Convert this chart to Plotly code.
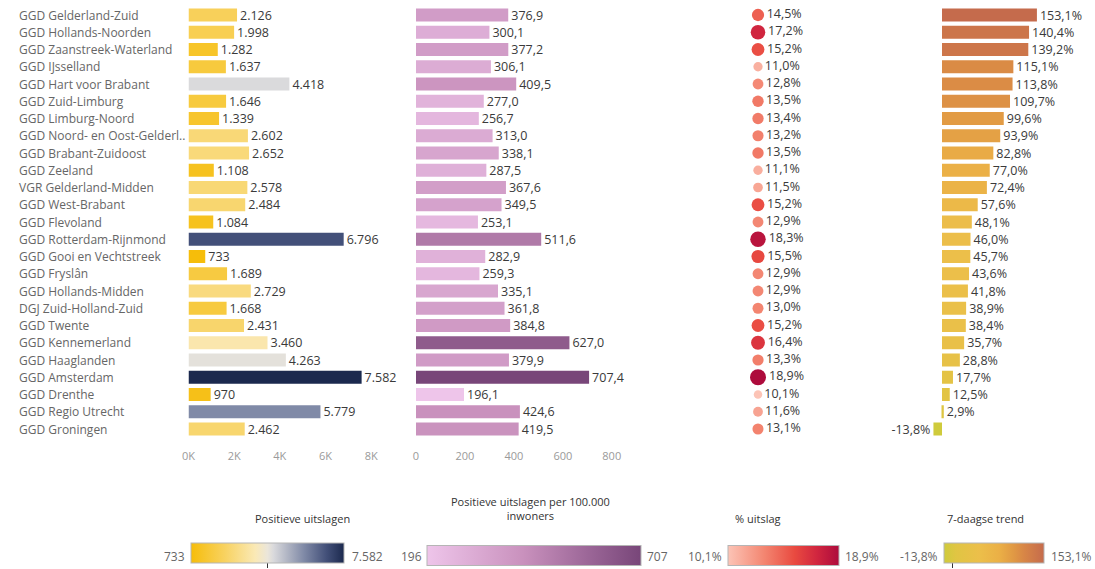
import plotly.graph_objects as go

W, H = 1095, 569

regions = [
    "GGD Gelderland-Zuid", "GGD Hollands-Noorden", "GGD Zaanstreek-Waterland",
    "GGD IJsselland", "GGD Hart voor Brabant", "GGD Zuid-Limburg",
    "GGD Limburg-Noord", "GGD Noord- en Oost-Gelderl..", "GGD Brabant-Zuidoost",
    "GGD Zeeland", "VGR Gelderland-Midden", "GGD West-Brabant", "GGD Flevoland",
    "GGD Rotterdam-Rijnmond", "GGD Gooi en Vechtstreek", "GGD Fryslân",
    "GGD Hollands-Midden", "DGJ Zuid-Holland-Zuid", "GGD Twente",
    "GGD Kennemerland", "GGD Haaglanden", "GGD Amsterdam", "GGD Drenthe",
    "GGD Regio Utrecht", "GGD Groningen",
]
positieve = [2126, 1998, 1282, 1637, 4418, 1646, 1339, 2602, 2652, 1108, 2578,
             2484, 1084, 6796, 733, 1689, 2729, 1668, 2431, 3460, 4263, 7582,
             970, 5779, 2462]
per100k = [376.9, 300.1, 377.2, 306.1, 409.5, 277.0, 256.7, 313.0, 338.1,
           287.5, 367.6, 349.5, 253.1, 511.6, 282.9, 259.3, 335.1, 361.8,
           384.8, 627.0, 379.9, 707.4, 196.1, 424.6, 419.5]
pct_uitslag = [14.5, 17.2, 15.2, 11.0, 12.8, 13.5, 13.4, 13.2, 13.5, 11.1,
               11.5, 15.2, 12.9, 18.3, 15.5, 12.9, 12.9, 13.0, 15.2, 16.4,
               13.3, 18.9, 10.1, 11.6, 13.1]
trend7 = [153.1, 140.4, 139.2, 115.1, 113.8, 109.7, 99.6, 93.9, 82.8, 77.0,
          72.4, 57.6, 48.1, 46.0, 45.7, 43.6, 41.8, 38.9, 38.4, 35.7, 28.8,
          17.7, 12.5, 2.9, -13.8]

axis1_tickvals = [0, 2000, 4000, 6000, 8000]
axis1_ticktext = ["0K", "2K", "4K", "6K", "8K"]
axis2_tickvals = [0, 200, 400, 600, 800]
axis2_ticktext = ["0", "200", "400", "600", "800"]

legend_titles = ["Positieve uitslagen", "Positieve uitslagen per 100.000<br>inwoners",
                 "% uitslag", "7-daagse trend"]


def px(x):
    return x / W


def py(y):
    return 1 - y / H


def nl_int(v):
    return f"{v:,}".replace(",", ".")


def nl_dec(v, suffix=""):
    return f"{v:.1f}".replace(".", ",") + suffix


FONT = "Open Sans"
LBL = "#666666"
VAL = "#3a3a3a"

cs1 = [[0, "#F6BD0A"], [0.22, "#F8D260"], [0.42, "#FAE9B6"], [0.5, "#EBE6DA"],
       [0.54, "#D9D9DC"], [0.74, "#7F89A6"], [0.885, "#435079"], [1, "#1B294E"]]
cs2 = [[0, "#EEC5EA"], [0.45, "#C991BD"], [0.75, "#9C6798"], [1, "#784679"]]
cs3 = [[0, "#FCC4B6"], [0.33, "#F38570"], [0.6, "#E94A40"], [0.8, "#D1263F"], [1, "#AD0B3C"]]
cs4 = [[0, "#CFCB3C"], [0.12, "#E0C543"], [0.35, "#ECBF4A"], [0.55, "#EBB046"],
       [0.7, "#E09844"], [0.8, "#D88646"], [1, "#C56B4C"]]


def cbar(cx, length, tickvals=None):
    d = dict(orientation="h", x=px(cx), xanchor="center", y=py(556), yanchor="middle",
             len=length, lenmode="pixels", thickness=20, thicknessmode="pixels",
             outlinewidth=1, outlinecolor="#b5b5b5", xpad=0, ypad=0,
             showticklabels=False)
    if tickvals is not None:
        d.update(tickvals=tickvals, ticks="outside", ticklen=5, tickcolor="#333333", tickwidth=1)
    else:
        d.update(ticks="")
    return d


VALFONT = dict(family=FONT, size=12.5, color=VAL)

fig = go.Figure()

fig.add_trace(go.Bar(
    y=regions, x=positieve, orientation="h", xaxis="x", yaxis="y", width=0.74,
    marker=dict(color=positieve, colorscale=cs1, cmin=min(positieve), cmax=max(positieve),
                showscale=True, colorbar=cbar(267.5, 153, [4150]), line_width=0),
    text=[nl_int(v) for v in positieve], textposition="outside", constraintext="none",
    textfont=VALFONT, cliponaxis=False,
))

fig.add_trace(go.Bar(
    y=regions, x=per100k, orientation="h", xaxis="x2", yaxis="y", width=0.74,
    marker=dict(color=per100k, colorscale=cs2, cmin=min(per100k), cmax=max(per100k),
                showscale=True, colorbar=cbar(534, 214), line_width=0),
    text=[nl_dec(v) for v in per100k], textposition="outside", constraintext="none",
    textfont=VALFONT, cliponaxis=False,
))

pmin, pmax = min(pct_uitslag), max(pct_uitslag)
dot_sizes = [8.5 + (v - pmin) / (pmax - pmin) * 7.5 for v in pct_uitslag]
fig.add_trace(go.Scatter(
    y=regions, x=[0] * len(regions), xaxis="x3", yaxis="y", mode="markers+text",
    marker=dict(color=pct_uitslag, colorscale=cs3, cmin=pmin, cmax=pmax, size=dot_sizes,
                showscale=True, colorbar=cbar(783.5, 111), line_width=0, opacity=1),
    text=[nl_dec(v, "%") for v in pct_uitslag], textposition="middle right",
    textfont=VALFONT, cliponaxis=False,
))

fig.add_trace(go.Bar(
    y=regions, x=trend7, orientation="h", xaxis="x4", yaxis="y", width=0.74,
    marker=dict(color=trend7, colorscale=cs4, cmin=min(trend7), cmax=max(trend7),
                showscale=True, colorbar=cbar(994, 100, [0]), line_width=0),
    text=[nl_dec(v, "%") for v in trend7], textposition="outside", constraintext="none",
    textfont=VALFONT, cliponaxis=False,
))

n = len(regions)
ROW = 17.25          # px per row in the reference
TOP, BOT = 6.0, 437.6
FIRST = 15.0         # centre of first row
ytop_val = -(FIRST - TOP) / ROW
ybot_val = (BOT - FIRST) / ROW
ydom = [py(BOT), py(TOP)]
tickfont = dict(family=FONT, size=11, color="#9a9a9a")
common = dict(showgrid=False, zeroline=False, showline=False, fixedrange=True)

fig.update_layout(
    width=W, height=H, margin=dict(l=0, r=0, t=0, b=0, autoexpand=False),
    paper_bgcolor="white", plot_bgcolor="white", showlegend=False,
    font=dict(family=FONT, color=LBL),
    bargap=0.26,
    yaxis=dict(type="category", range=[ybot_val, ytop_val], autorange=False, domain=ydom,
               showticklabels=False, anchor="x", **common),
    xaxis=dict(domain=[px(188.5), px(394)], range=[0, 9000], tickvals=axis1_tickvals,
               ticktext=axis1_ticktext, ticks="outside", ticklen=8,
               tickcolor="rgba(0,0,0,0)", tickfont=tickfont, anchor="y", **common),
    xaxis2=dict(domain=[px(416), px(624)], range=[0, 850], tickvals=axis2_tickvals,
                ticktext=axis2_ticktext, ticks="outside", ticklen=8,
                tickcolor="rgba(0,0,0,0)", tickfont=tickfont, anchor="y", **common),
    xaxis3=dict(domain=[px(738), px(858)], range=[-1, 5], showticklabels=False,
                anchor="y", **common),
    xaxis4=dict(domain=[px(926.5), px(1044.3)], range=[-25, 165], showticklabels=False,
                anchor="y", **common),
)

annotations = []
for name in regions:
    annotations.append(dict(x=px(17), xref="paper", y=name, yref="y", text=name,
                            xanchor="left", yanchor="middle", showarrow=False,
                            font=dict(family=FONT, size=12, color=LBL)))

title_pos = [(302, 518), (530, 508), (758, 518), (985, 518)]
for t, (tx, ty) in zip(legend_titles, title_pos):
    annotations.append(dict(x=px(tx), y=py(ty), xref="paper", yref="paper", text=t,
                            showarrow=False, xanchor="center", yanchor="middle",
                            font=dict(family=FONT, size=11, color="#333333")))

end_labels = [
    (nl_int(min(positieve)), 187, "right"), (nl_int(max(positieve)), 350, "left"),
    (f"{round(min(per100k))}", 424, "right"), (f"{round(max(per100k))}", 645, "left"),
    (nl_dec(pmin, "%"), 724, "right"), (nl_dec(pmax, "%"), 843, "left"),
    (nl_dec(min(trend7), "%"), 940, "right"), (nl_dec(max(trend7), "%"), 1049, "left"),
]
for t, tx, anc in end_labels:
    annotations.append(dict(x=px(tx), y=py(556), xref="paper", yref="paper", text=t,
                            showarrow=False, xanchor=anc, yanchor="middle",
                            font=dict(family=FONT, size=12, color=LBL)))

fig.update_layout(annotations=annotations)

fig.write_html("out.html",
               config={"displayModeBar": False},
               post_script="document.body.style.margin='0px';"
                           "document.body.style.overflow='hidden';")
